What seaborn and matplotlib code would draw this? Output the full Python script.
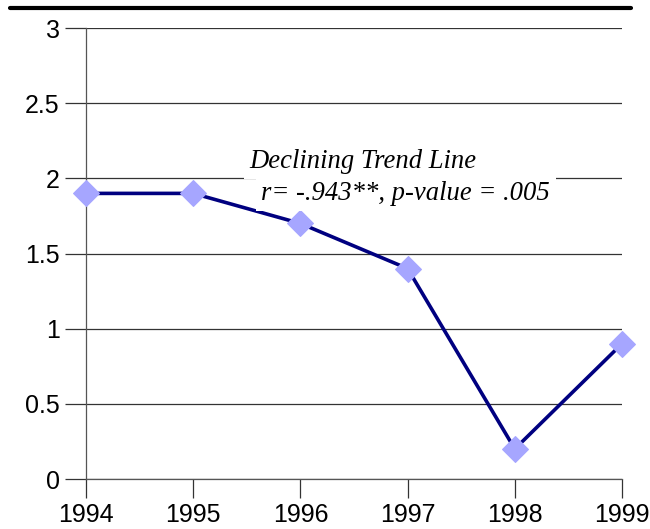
import pandas as pd
import matplotlib.pyplot as plt
import seaborn as sns

sns.set_theme(style="white")
plt.rcParams['font.family'] = ['Liberation Sans', 'DejaVu Sans']

# Data
years = [1994, 1995, 1996, 1997, 1998, 1999]
values = [1.9, 1.9, 1.7, 1.4, 0.2, 0.9]
df = pd.DataFrame({"year": years, "value": values})

fig = plt.figure(figsize=(6.5, 5.29), dpi=100)
ax = fig.add_axes([0.1323, 0.0945, 0.8246, 0.8525])

sns.lineplot(data=df, x="year", y="value", ax=ax, color="#000080", linewidth=2.6,
             marker="D", markersize=13, markerfacecolor="#A6A6FF",
             markeredgecolor="#A6A6FF", zorder=3, clip_on=False)

ax.set_xlim(1994, 1999)
ax.set_ylim(0, 3)
ax.set_xticks(years)
ax.set_yticks([0, 0.5, 1, 1.5, 2, 2.5, 3])
ax.set_yticklabels(["0", "0.5", "1", "1.5", "2", "2.5", "3"])
ax.set_xlabel("")
ax.set_ylabel("")
ax.yaxis.grid(True, color="#333333", linewidth=0.9)
ax.set_axisbelow(True)
ax.tick_params(axis="both", labelsize=18, labelcolor="#000000", direction="out",
               width=0.9, color="#333333", bottom=True, left=True)
ax.tick_params(axis="y", length=15, pad=4)
ax.tick_params(axis="x", length=14, pad=3)
for side in ["top", "right"]:
    ax.spines[side].set_visible(False)
for side in ["left", "bottom"]:
    ax.spines[side].set_color("#555555")
    ax.spines[side].set_linewidth(0.9)

# Annotation with white background
txt_kw = dict(transform=ax.transAxes, fontsize=19.2, style="italic",
              family=["Liberation Serif", "DejaVu Serif"], color="#000000",
              va="center", ha="left", zorder=5,
              bbox=dict(facecolor="white", edgecolor="none", pad=4))
ax.text(0.305, 0.705, "Declining Trend Line", **txt_kw)
ax.text(0.327, 0.634, "r= -.943**, p-value = .005", **txt_kw)

# Thick top rule
fig.add_artist(plt.Line2D([0.015, 0.97], [0.985, 0.985], color="black",
                          linewidth=3, transform=fig.transFigure))

fig.savefig("out.png", dpi=100)
